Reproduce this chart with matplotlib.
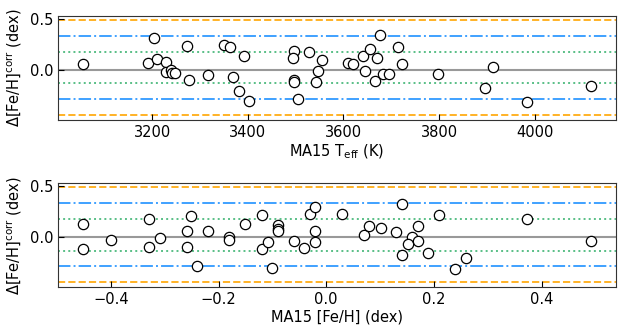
import matplotlib

matplotlib.use("Agg")
import matplotlib.pyplot as plt

# top panel: MA15 Teff vs Delta[Fe/H]
teff = [3056, 3192, 3204, 3210, 3228, 3228, 3240, 3242, 3247, 3272, 3278,
        3316, 3351, 3363, 3368, 3382, 3392, 3403, 3497, 3495, 3497, 3497,
        3504, 3527, 3556, 3546, 3542,
        3610, 3620, 3641, 3655, 3671, 3676, 3646, 3667, 3683, 3696, 3715,
        3723, 3797,
        3912, 3895, 3983, 4117]
dfeh_teff = [0.056, 0.066, 0.314, 0.105, 0.078, -0.026, 0.0, -0.032, -0.032, 0.235, -0.098,
             -0.049, 0.245, 0.222, -0.069, -0.209, 0.137, -0.307, 0.18, 0.115, -0.095, -0.118,
             -0.287, 0.173, 0.098, -0.013, -0.124,
             0.066, 0.052, 0.137, 0.206, 0.118, 0.34, -0.01, -0.111, -0.039, -0.039, 0.225,
             0.056, -0.042,
             0.029, -0.176, -0.317, -0.157]

# bottom panel: MA15 [Fe/H] vs Delta[Fe/H]
feh = [-0.451, -0.451, -0.400, -0.330, -0.330, -0.309, -0.251, -0.259, -0.259, -0.240,
       -0.220, -0.180, -0.180, -0.150, -0.120, -0.120, -0.109, -0.100, -0.090, -0.090,
       -0.090, -0.059, -0.041, -0.030, -0.020, -0.020, -0.020,
       0.030, 0.071, 0.080, 0.101, 0.130, 0.141, 0.141, 0.171, 0.160, 0.151, 0.171,
       0.189, 0.210, 0.240, 0.260,
       0.372, 0.491]
dfeh_feh = [0.125, -0.118, -0.032, 0.173, -0.096, -0.01, 0.202, 0.055, -0.096, -0.282,
            0.055, 0.0, -0.032, 0.125, 0.218, -0.118, -0.048, -0.301, 0.115, 0.08,
            0.055, -0.041, -0.106, 0.228, 0.295, 0.055, -0.051,
            0.228, 0.016, 0.106, 0.093, 0.048, 0.324, -0.173, 0.106, -0.003, -0.067, -0.041,
            -0.151, 0.218, -0.311, -0.205,
            0.173, -0.041]

MEAN = 0.022
SIGMA = 0.154

plt.rcParams["font.size"] = 10.5

fig = plt.figure(figsize=(6.22, 3.32), dpi=100)
ax1 = fig.add_axes([0.0932, 0.6386, 0.8972, 0.3132])
ax2 = fig.add_axes([0.0932, 0.1346, 0.8972, 0.3133])

panels = [
    (ax1, teff, dfeh_teff, r"MA15 T$_{\rm eff}$ (K)"),
    (ax2, feh, dfeh_feh, r"MA15 [Fe/H] (dex)"),
]

for ax, x, y, xlabel in panels:
    ax.axhline(0.0, color="#999999", lw=1.5, zorder=1)
    for k, col, ls in [(1, "mediumseagreen", ":"), (2, "dodgerblue", "-."), (3, "orange", "--")]:
        ax.axhline(MEAN + k * SIGMA, color=col, ls=ls, lw=1.4, alpha=0.85, zorder=1)
        ax.axhline(MEAN - k * SIGMA, color=col, ls=ls, lw=1.4, alpha=0.85, zorder=1)
    ax.scatter(x, y, s=55, facecolor="white", edgecolor="black", linewidth=0.9, zorder=3)
    ax.set_ylim(-0.49, 0.525)
    ax.set_yticks([0.0, 0.5])
    ax.set_ylabel(r"$\Delta$[Fe/H]$^{\rm corr}$ (dex)")
    ax.set_xlabel(xlabel, labelpad=2)
    ax.tick_params(direction="in", length=4)
    for sp in ax.spines.values():
        sp.set_color("#333333")

ax1.set_xticks([3200, 3400, 3600, 3800, 4000])
ax2.set_xticks([-0.4, -0.2, 0.0, 0.2, 0.4])

fig.savefig("out.png", dpi=100)
